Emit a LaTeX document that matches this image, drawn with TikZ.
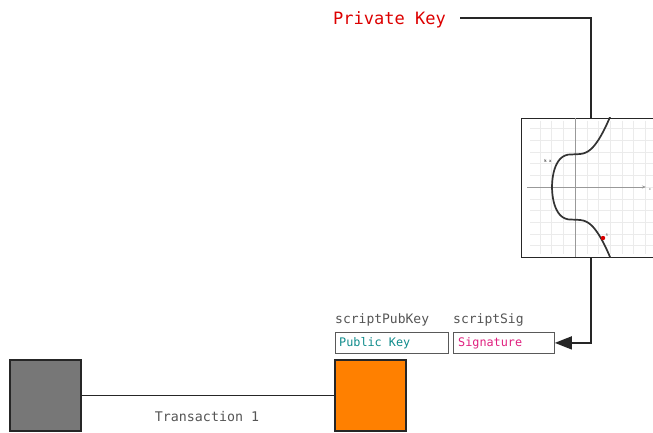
\documentclass[tikz,border=0pt]{standalone}
\usepackage{fontspec}
\setmonofont{DejaVu Sans Mono}
\usetikzlibrary{arrows.meta}
\definecolor{keyred}{HTML}{DD0000}
\definecolor{pubteal}{HTML}{108C8C}
\definecolor{sigpink}{HTML}{E0207F}
\definecolor{labelgray}{HTML}{555555}
\definecolor{boxorange}{HTML}{FF8000}
\definecolor{boxgray}{HTML}{777777}
\tikzset{
  mono/.style={font=\ttfamily, inner sep=0pt},
  block/.style={draw=black!85, line width=1.2pt, minimum width=71pt, minimum height=71pt, inner sep=0pt},
  field/.style={draw=black!65, line width=0.8pt, minimum height=21pt, inner sep=0pt, anchor=north west},
  wire/.style={draw=black!85, line width=1.5pt},
  gridline/.style={draw=black!8, line width=0.4pt},
  axis/.style={draw=black!40, line width=0.6pt},
}
\begin{document}
\begin{tikzpicture}[x=1pt, y=-1pt]
\clip (0,0) rectangle (653,433);
\fill[white] (0,0) rectangle (653,433);

% private key label and its lead-in to the curve panel
\node[mono, anchor=base west, text=keyred, font=\ttfamily\fontsize{17}{17}\selectfont] (priv) at (333,24.5) {Private Key};
\coordinate (privend) at (460,18);

% elliptic curve panel
\node[draw=black!85, line width=1.3pt, minimum width=140pt, minimum height=139pt, inner sep=0pt, anchor=north west] (panel) at (521,118) {};
\begin{scope}
  \clip (521,118) rectangle (660,257);
  \foreach \k in {-3,...,7} \draw[gridline] (575+11.7*\k,121) -- (575+11.7*\k,254);
  \foreach \k in {-5,...,5} \draw[gridline] (530,187+11.7*\k) -- (660,187+11.7*\k);
  \draw[axis] (575,118) -- (575,257);
  \draw[axis, -{Stealth[length=4pt,width=3pt]}] (527,187) -- (646,187);
  \draw[black!80, line width=1.7pt, smooth, samples=241, domain=-5.8:5.8, variable=\t]
    plot ({575+12*sign(\t*\t-7)*abs(\t*\t-7)^(1/3)}, {187-12.4*\t});
  \fill[red!85!black] (603,238) circle (2.2pt);
\end{scope}
\node[font=\ttfamily\fontsize{4}{4}\selectfont\bfseries, text=black!70, inner sep=0pt] (kx) at (548,161) {k x};
\node[font=\ttfamily\fontsize{3.5}{3.5}\selectfont, text=black!60, inner sep=0pt] (rlab) at (607,235) {R};
\node[font=\ttfamily\fontsize{3.5}{3.5}\selectfont, text=black!60, inner sep=0pt] (xlab) at (650,190) {x};

% script fields
\node[mono, anchor=base west, text=labelgray, font=\ttfamily\fontsize{13}{13}\selectfont] (pklabel) at (335,323) {scriptPubKey};
\node[mono, anchor=base west, text=labelgray, font=\ttfamily\fontsize{13}{13}\selectfont] (siglabel) at (453,323) {scriptSig};
\node[field, minimum width=113pt] (pubkey) at (335,332) {};
\node[mono, anchor=base west, text=pubteal, font=\ttfamily\fontsize{11.8}{11.8}\selectfont] (pubtext) at (339,346.5) {Public Key};
\node[field, minimum width=101pt] (sig) at (453,332) {};
\node[mono, anchor=base west, text=sigpink, font=\ttfamily\fontsize{11.8}{11.8}\selectfont] (sigtext) at (458,346.5) {Signature};

% outputs of the transaction
\node[block, fill=boxgray] (prev) at (45.5,395.5) {};
\node[block, fill=boxorange] (out) at (370.5,395.5) {};
\draw[black!85, line width=1pt] (prev.east) -- (out.west);
\node[mono, text=labelgray, anchor=base, font=\ttfamily\fontsize{13.3}{13.3}\selectfont] (txlabel) at (207,421) {Transaction 1};

% connectors
\draw[wire] (privend) -| (panel.north -| 591,0);
\draw[wire, -{Triangle[length=17pt,width=13pt]}] (panel.south -| 591,0) |- (sig.east);
\end{tikzpicture}
\end{document}
